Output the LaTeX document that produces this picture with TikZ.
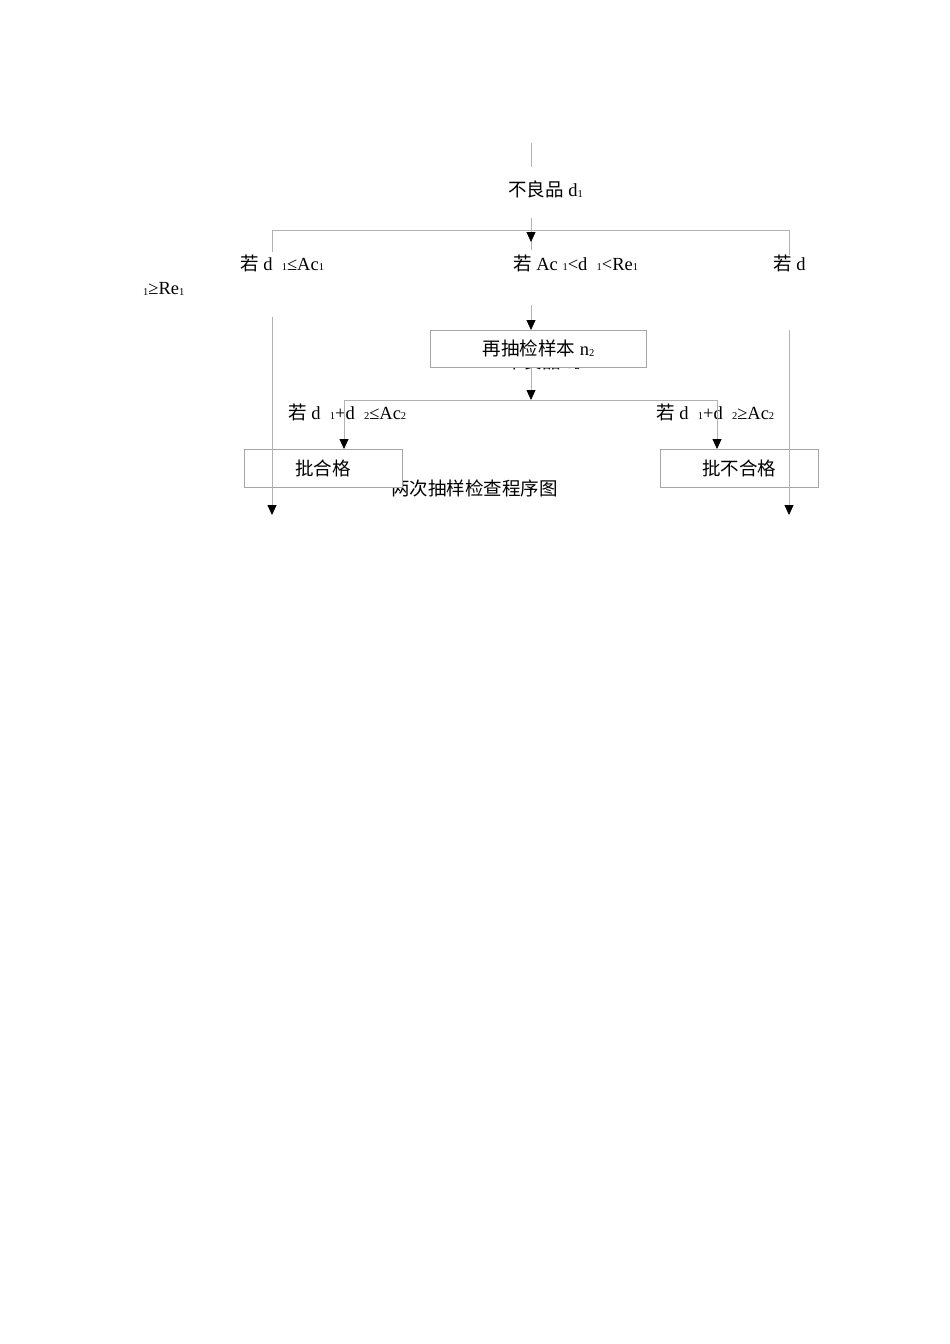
\documentclass[tikz,border=0pt]{standalone}
\usepackage{fontspec}
\setmainfont{Liberation Serif}
\newfontfamily\cjk{Noto Sans CJK SC}
\usetikzlibrary{arrows.meta}
\definecolor{lgray}{RGB}{178,178,178}
\definecolor{bgray}{RGB}{165,165,165}
\newcommand\sbs[1]{\raisebox{-0.05em}{\fontsize{10.5}{10.5}\selectfont #1}}
\tikzset{
  ln/.style={draw=lgray, line width=0.8pt},
  arr/.style={ln, -{Triangle[width=9pt,length=10pt,color=black]}},
  lbl/.style={anchor=west, inner sep=0pt, font=\fontsize{18.5}{20}\selectfont},
  boxs/.style={draw=bgray, fill=white, line width=0.8pt, inner sep=0pt,
    font=\fontsize{18.5}{20}\selectfont},
}
\begin{document}
\begin{tikzpicture}[x=1pt,y=-1pt]
\useasboundingbox (0,0) rectangle (950,1344);
% texts that are partly hidden behind boxes
\node[lbl] (hid) at (505,361) {{\cjk 不良品} d\sbs{2}};
\node[lbl] (title) at (391,488) {\cjk 两次抽样检查程序图};
% boxes
\node[boxs, minimum width=216pt, minimum height=37.5pt] (resample) at (538.5,348.75) {{\cjk 再抽检样本} n\sbs{2}};
\node[boxs, minimum width=158pt, minimum height=38pt] (accept) at (323,468) {\cjk 批合格};
\node[boxs, minimum width=157.5pt, minimum height=38pt] (reject) at (739.25,468) {\cjk 批不合格};
% labels
\node[lbl] (d1) at (508,189) {{\cjk 不良品} d\sbs{1}};
\node[lbl] (c1) at (240,263) {{\cjk 若} d\ \ \sbs{1}≤Ac\sbs{1}};
\node[lbl] (c2) at (513,263) {{\cjk 若} Ac\ \sbs{1}<d\ \ \sbs{1}<Re\sbs{1}};
\node[lbl] (c3) at (773,263) {{\cjk 若} d};
\node[lbl] (c3b) at (143,289) {\sbs{1}≥Re\sbs{1}};
\node[lbl] (c4) at (288,412) {{\cjk 若} d\ \ \sbs{1}+d\ \ \sbs{2}≤Ac\sbs{2}};
\node[lbl] (c5) at (656,412) {{\cjk 若} d\ \ \sbs{1}+d\ \ \sbs{2}≥Ac\sbs{2}};
% coordinates
\coordinate (top0) at (531,143);
\coordinate (top1) at (531,167);
\coordinate (m0) at (531,218);
\coordinate (m1) at (531,242);
\coordinate (m2) at (531,250);
\coordinate (hl) at (272,230);
\coordinate (hc) at (531,230);
\coordinate (hr) at (789,230);
\coordinate (sl) at (272,252);
\coordinate (sr) at (789,255);
\coordinate (c0) at (531,305);
\coordinate (c1t) at (531,330);
\coordinate (r0) at (531,367.5);
\coordinate (r1) at (531,400);
\coordinate (h2l) at (344,400);
\coordinate (h2r) at (717,400);
\coordinate (a2) at (344,449);
\coordinate (b2) at (717,449);
\coordinate (ll0) at (272,317);
\coordinate (ll1) at (272,515);
\coordinate (rr0) at (789,330);
\coordinate (rr1) at (789,515);
% connectors
\draw[ln] (top0) -- (top1);
\draw[ln] (m0) -- (m2);
\draw[arr] (m0) -- (m1);
\draw[ln] (sl) -- (hl) -- (hr) -- (sr);
\draw[arr] (c0) -- (c1t);
\draw[arr] (r0) -- (r1);
\draw[ln] (h2l) -- (h2r);
\draw[arr] (h2l) -- (a2);
\draw[arr] (h2r) -- (b2);
\draw[arr] (ll0) -- (ll1);
\draw[arr] (rr0) -- (rr1);
\end{tikzpicture}
\end{document}
